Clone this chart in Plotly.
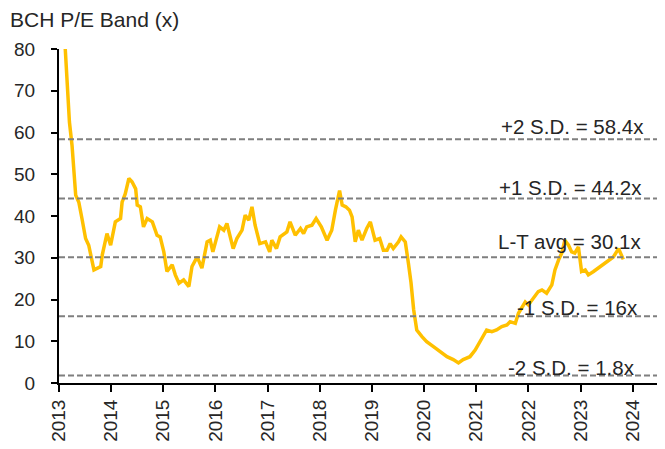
import plotly.graph_objects as go

# ---- data (decimal years, P/E multiple) ----
years = [2013.08, 2013.12, 2013.2, 2013.25, 2013.32, 2013.38, 2013.44, 2013.51, 2013.57, 2013.64,
         2013.67, 2013.8, 2013.83, 2013.92, 2013.99, 2014.08, 2014.18, 2014.21, 2014.27, 2014.34,
         2014.40, 2014.47, 2014.5, 2014.56, 2014.62, 2014.69, 2014.79, 2014.88, 2014.94, 2015.01,
         2015.07, 2015.17, 2015.23, 2015.30, 2015.39, 2015.49, 2015.55, 2015.65, 2015.74, 2015.84,
         2015.9, 2015.95, 2016.08, 2016.16, 2016.22, 2016.34, 2016.41, 2016.51, 2016.57, 2016.64,
         2016.70, 2016.76, 2016.85, 2016.96, 2017.04, 2017.08, 2017.17, 2017.24, 2017.37, 2017.43,
         2017.53, 2017.63, 2017.69, 2017.75, 2017.85, 2017.93, 2018.03, 2018.14, 2018.23, 2018.3,
         2018.38, 2018.43, 2018.5, 2018.57, 2018.62, 2018.68, 2018.74, 2018.81, 2018.9, 2018.97,
         2019.06, 2019.15, 2019.22, 2019.29, 2019.35, 2019.41, 2019.51, 2019.56, 2019.64, 2019.70,
         2019.75, 2019.80, 2019.86, 2019.96, 2020.05, 2020.18, 2020.30, 2020.44, 2020.56, 2020.66,
         2020.75, 2020.88, 2020.98, 2021.11, 2021.2, 2021.3, 2021.39, 2021.49, 2021.59, 2021.65,
         2021.75, 2021.81, 2021.87, 2021.94, 2022.0, 2022.1, 2022.19, 2022.26, 2022.35, 2022.45,
         2022.51, 2022.58, 2022.64, 2022.70, 2022.77, 2022.83, 2022.89, 2022.96, 2023.02, 2023.09,
         2023.15, 2023.25, 2023.34, 2023.44, 2023.53, 2023.63, 2023.73, 2023.76, 2023.82]
pe = [84, 80, 62.5, 56.9, 45, 43.3, 39.4, 34.6, 33, 29.1,
      27.1, 27.9, 30.7, 35.8, 33, 38.6, 39.4, 43.3, 45.3, 49,
      48.2, 46.5, 42.6, 42.2, 37.4, 39.4, 38.6, 35.4, 35, 31.4,
      26.7, 28.3, 25.9, 23.9, 24.7, 23.1, 27.9, 30.2, 27.5, 33.8,
      34.2, 31.4, 37.4, 36.6, 38.2, 32.2, 34.6, 36.6, 40.2, 39,
      42.2, 37.8, 33.4, 33.8, 31.4, 34.2, 32.2, 35, 36.2, 38.6,
      35.4, 37, 35.8, 37.4, 37.8, 39.4, 37.4, 34.2, 36.6, 41.4,
      46.1, 42.6, 42.2, 41.4, 39.8, 33.8, 36.6, 34.2, 37, 38.6,
      34.2, 34.6, 31.8, 31.8, 33.4, 32.2, 33.8, 35, 33.8, 28.7,
      24, 17.6, 12.7, 11.1, 9.9, 8.7, 7.5, 6.3, 5.6, 4.8,
      5.6, 6.3, 7.9, 10.7, 12.7, 12.3, 12.7, 13.5, 13.9, 14.7,
      14.3, 16.7, 17.9, 19.4, 18.7, 20.3, 21.9, 22.3, 21.5, 23.5,
      27.1, 29.5, 31.1, 34.2, 33, 31.4, 31.1, 32.6, 26.7, 27.1,
      25.9, 26.7, 27.5, 28.3, 29.1, 30.2, 32.2, 31.4, 29.6]

band_values = [58.4, 44.2, 30.1, 16.0, 1.8]
band_labels = ["+2 S.D. = 58.4x", "+1 S.D. = 44.2x", "L-T avg = 30.1x", "-1 S.D. = 16x", "-2 S.D. = 1.8x"]

tick_years = list(range(2013, 2025))
tick_labels = [str(y) for y in tick_years]
y_ticks = list(range(0, 81, 10))

title_text = "BCH P/E Band (x)"

# ---- styling / positions ----
label_x = [2024.255, 2024.217, 2024.197, 2024.14, 2024.08]
label_y = [61.4, 46.9, 33.8, 18.0, 3.8]

FONT = "Liberation Sans, Arial, sans-serif"
TXT = "#262626"
# page has an 8px body margin, so the figure is sized/offset to compensate
W, H = 657, 441
L, R, T, B = 51, 0, 41, 66

fig = go.Figure()
fig.add_trace(go.Scatter(x=years, y=pe, mode="lines",
                         line=dict(color="#FFC000", width=3.5),
                         showlegend=False, hoverinfo="x+y"))

for v in band_values:
    fig.add_shape(type="line", xref="paper", x0=0, x1=1, yref="y", y0=v, y1=v,
                  line=dict(color="#7F7F7F", width=2, dash="6px,3px"), layer="above")

for txt, lx, ly in zip(band_labels, label_x, label_y):
    fig.add_annotation(x=lx, y=ly, xref="x", yref="y", text=txt, showarrow=False,
                       xanchor="right", yanchor="middle",
                       font=dict(family=FONT, size=20.5, color=TXT))

fig.add_annotation(x=(0 - L) / (W - L - R), y=1 + (T - 11) / (H - T - B),
                   xref="paper", yref="paper", text=title_text,
                   showarrow=False, xanchor="left", yanchor="middle",
                   font=dict(family=FONT, size=21, color=TXT))

fig.update_layout(
    width=W, height=H,
    margin=dict(l=L, r=R, t=T, b=B, autoexpand=False),
    paper_bgcolor="white", plot_bgcolor="white",
    font=dict(family=FONT, size=19, color=TXT),
    xaxis=dict(range=[2013, 2024.62], tickmode="array", tickvals=tick_years, ticktext=tick_labels,
               tickangle=-90, ticks="outside", ticklen=7, tickwidth=2, tickcolor="black",
               showline=True, linecolor="black", linewidth=2, showgrid=False, zeroline=False,
               automargin=False,
               tickfont=dict(family=FONT, size=19, color=TXT)),
    yaxis=dict(range=[0, 80], tickmode="array", tickvals=y_ticks,
               ticks="outside", ticklen=6, tickwidth=2, tickcolor="black",
               showline=True, linecolor="black", linewidth=2, showgrid=False, zeroline=False,
               automargin=False, ticklabelstandoff=12,
               tickfont=dict(family=FONT, size=19, color=TXT)),
)

fig.write_html("out.html")
